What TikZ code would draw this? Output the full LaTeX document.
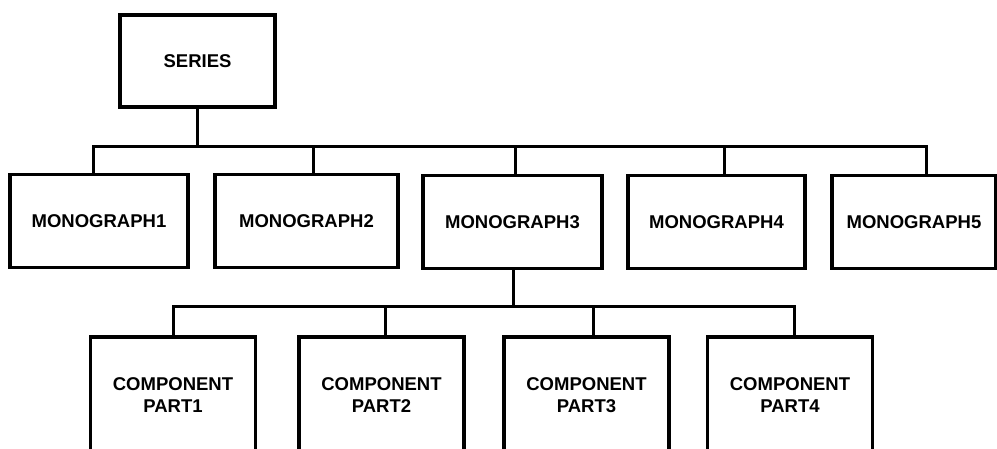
\documentclass[tikz,border=0pt]{standalone}
\usepackage{fontspec}
\setmainfont{Liberation Sans}
\begin{document}
\begin{tikzpicture}[
        x=1pt, y=-1pt,
        box/.style={rectangle, draw=black, line width=3.2pt, font=\fontsize{18.5}{22}\selectfont\bfseries, align=center, inner sep=0pt, outer sep=0pt},
        top/.style={box, minimum width=155pt, minimum height=92pt},
        mono/.style={box, minimum height=93pt},
        part/.style={box, minimum width=165pt, minimum height=116pt},
        link/.style={line width=3pt}
    ]
    \useasboundingbox (0,0) rectangle (997,448);

    % Series
    \node[top] (series) at (197.5,61) {SERIES};

    % Monographs
    \node[mono, minimum width=178pt] (mono1) at (99,221) {MONOGRAPH1};
    \node[mono, minimum width=183pt] (mono2) at (306.5,221) {MONOGRAPH2};
    \node[mono, minimum width=179pt] (mono3) at (512.5,222) {MONOGRAPH3};
    \node[mono, minimum width=177pt] (mono4) at (716.5,222) {MONOGRAPH4};
    \node[mono, minimum width=164pt] (mono5) at (914,222) {MONOGRAPH5};

    % Component parts (bottom edges run off the page)
    \node[part] (part1) at (173,395) {COMPONENT\\PART1};
    \node[part] (part2) at (381.5,395) {COMPONENT\\PART2};
    \node[part] (part3) at (586.5,395) {COMPONENT\\PART3};
    \node[part] (part4) at (790,395) {COMPONENT\\PART4};

    % Upper bus
    \coordinate (busS) at (197.5,146);
    \coordinate (bus1) at (93,146);
    \coordinate (bus2) at (313,146);
    \coordinate (bus3) at (515,146);
    \coordinate (bus4) at (724,146);
    \coordinate (bus5) at (926,146);
    \draw[link] (series.south -| busS) -- (busS);
    \draw[link] (mono1.north -| bus1) -- (bus1) -- (bus5) -- (mono5.north -| bus5);
    \foreach \i in {2,3,4}
        \draw[link] (bus\i) -- (mono\i.north -| bus\i);

    % Lower bus
    \coordinate (busM) at (513,306);
    \coordinate (low1) at (173,306);
    \coordinate (low2) at (385,306);
    \coordinate (low3) at (593,306);
    \coordinate (low4) at (794,306);
    \draw[link] (mono3.south -| busM) -- (busM);
    \draw[link] (part1.north -| low1) -- (low1) -- (low4) -- (part4.north -| low4);
    \foreach \i in {2,3}
        \draw[link] (low\i) -- (part\i.north -| low\i);

\end{tikzpicture}
\end{document}
